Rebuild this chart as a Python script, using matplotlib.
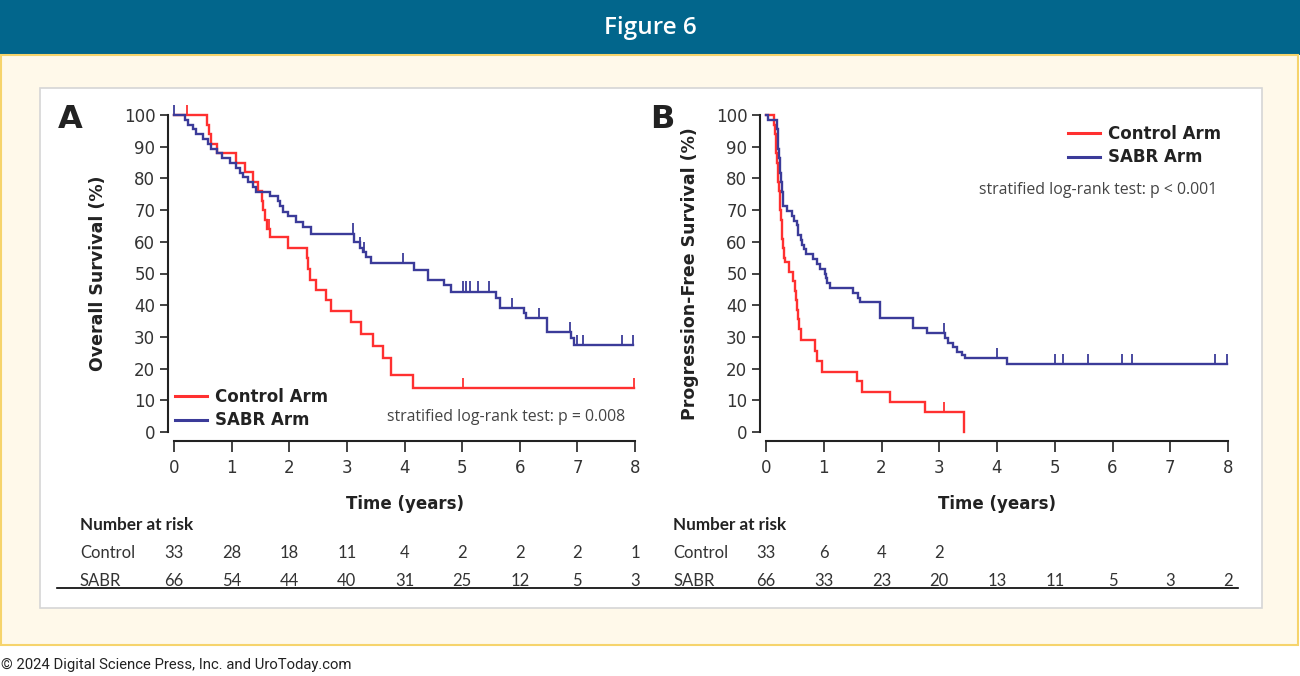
import numpy as np
import matplotlib
matplotlib.use("Agg")
import matplotlib.pyplot as plt
from matplotlib import transforms
from matplotlib.patches import Rectangle
from matplotlib.lines import Line2D

W, H = 1300, 676

# ---- data ----
years = [0, 1, 2, 3, 4, 5, 6, 7, 8]
pct_ticks = [0, 10, 20, 30, 40, 50, 60, 70, 80, 90, 100]

# panel A: overall survival, control arm
os_ctrl_t = [0, 0.57, 0.60, 0.65, 0.74, 1.08, 1.23, 1.37, 1.46, 1.52, 1.55, 1.58, 1.62,
             1.66, 1.98, 2.30, 2.33, 2.36, 2.47, 2.64, 2.73, 3.08, 3.25, 3.45, 3.63,
             3.77, 4.14, 7.98]
os_ctrl_s = [100, 97, 94, 91, 88, 85, 82, 79, 76, 73, 70, 67, 64,
             61.5, 58.2, 55, 51.5, 48, 44.8, 41.5, 38.2, 34.6, 31, 27, 23.2,
             18, 13.8, 13.8]
os_ctrl_cens = [0.22, 1.64, 3.08, 5.01, 7.98]

# panel A: overall survival, SABR arm
os_sabr_t = [0, 0.19, 0.25, 0.33, 0.39, 0.51, 0.59, 0.65, 0.74, 0.83, 0.97, 1.08, 1.14,
             1.20, 1.29, 1.37, 1.43, 1.66, 1.81, 1.84, 1.89, 1.98, 2.12, 2.24, 2.38,
             3.13, 3.22, 3.28, 3.34, 3.42, 4.17, 4.40, 4.69, 4.81, 5.59, 5.65, 6.08,
             6.11, 6.48, 6.89, 6.94, 7.96]
os_sabr_s = [100, 98.5, 97, 95.5, 94, 92.4, 90.9, 89.4, 87.9, 86.4, 84.8, 83.3, 81.8,
             80.3, 78.8, 77.3, 75.8, 74.5, 72.8, 71.2, 69.5, 68, 66.4, 64.8, 62.6,
             60, 58.2, 56.8, 55.2, 53.2, 51.2, 47.8, 46.3, 44.3, 42.2, 39.2, 37.5,
             35.9, 31.6, 29.5, 27.4, 27.4]
os_sabr_cens = [0.0, 3.10, 3.23, 3.30, 3.98, 5.01, 5.07, 5.13, 5.27, 5.47, 5.86, 6.33,
                6.87, 6.99, 7.10, 7.77, 7.96]

# panel B: progression-free survival, control arm
pfs_ctrl_t = [0, 0.13, 0.15, 0.165, 0.18, 0.195, 0.205, 0.215, 0.225, 0.235, 0.245,
              0.26, 0.27, 0.28, 0.295, 0.31, 0.33, 0.39, 0.46, 0.50, 0.52, 0.535,
              0.55, 0.57, 0.60, 0.85, 0.88, 0.97, 1.57, 1.66, 2.15, 2.75, 3.42]
pfs_ctrl_s = [100, 97, 94, 91, 88, 85, 82, 79, 76, 73, 70,
              67, 64, 61, 58, 55, 53.5, 50.5, 47.5, 44.5, 41.5, 38.5,
              35.5, 32.5, 29, 25.6, 22.5, 19, 16, 12.7, 9.4, 6.2, 0]
pfs_ctrl_cens = [3.08]

# panel B: progression-free survival, SABR arm
pfs_sabr_t = [0, 0.04, 0.185, 0.19, 0.20, 0.205, 0.21, 0.215, 0.22, 0.23, 0.235, 0.24,
              0.25, 0.255, 0.26, 0.27, 0.28, 0.29, 0.30, 0.36, 0.445, 0.485, 0.53,
              0.56, 0.60, 0.62, 0.65, 0.69, 0.82, 0.88, 0.935, 1.02, 1.035, 1.05,
              1.11, 1.51, 1.60, 1.63, 1.97, 2.55, 2.78, 3.10, 3.16, 3.24, 3.30, 3.39,
              3.45, 4.17, 7.99]
pfs_sabr_s = [100, 98.5, 97, 95.5, 94, 92.4, 90.9, 89.4, 87.9, 86.4, 84.8, 83.3,
              81.8, 80.3, 78.8, 77.3, 75.8, 74.2, 71.2, 69.7, 68.2, 66.7, 65.2,
              62.1, 60.6, 59.1, 57.6, 56.1, 54.5, 53, 51.5, 50, 48.5, 47,
              45.5, 43.9, 42.4, 40.9, 35.9, 32.7, 31.1, 29.5, 28.2, 26.8, 25.3, 24.3,
              23.2, 21.4, 21.4]
pfs_sabr_cens = [3.08, 4.00, 5.00, 5.14, 5.58, 6.16, 6.33, 7.77, 7.99]

# number at risk
risk_os_ctrl = [33, 28, 18, 11, 4, 2, 2, 2, 1]
risk_os_sabr = [66, 54, 44, 40, 31, 25, 12, 5, 3]
risk_pfs_ctrl = [33, 6, 4, 2]
risk_pfs_sabr = [66, 33, 23, 20, 13, 11, 5, 3, 2]

RED = "#FF3030"
BLUE = "#3B3B99"
INK = "#222222"


def box(x0, y0, x1, y1):
    # pixel box (top-left origin) -> figure fraction rect
    return [x0 / W, 1 - y1 / H, (x1 - x0) / W, (y1 - y0) / H]


fig = plt.figure(figsize=(W / 100, H / 100), dpi=100)

# background canvas in pixel coordinates
bg = fig.add_axes([0, 0, 1, 1])
bg.set_xlim(0, W)
bg.set_ylim(H, 0)
bg.axis("off")
bg.add_patch(Rectangle((0, 0), W, 55, color="#02668C", lw=0))
bg.add_patch(Rectangle((1, 55), W - 3, 590, facecolor="#FFF9EA", edgecolor="#F6D46C", lw=1.5))
bg.add_patch(Rectangle((40, 88), 1222, 520, facecolor="white", edgecolor="#D6D6D6", lw=1.2))
bg.text(650, 28, "Figure 6", color="white", fontsize=17.5, fontweight="semibold",
        family="Open Sans", ha="center", va="center")
bg.text(1, 665, "\u00a9 2024 Digital Science Press, Inc. and UroToday.com", color=INK,
        fontsize=10.7, family="Roboto", ha="left", va="center")


def km_panel(rect, curves, ylabel, letter, letter_xy):
    ax = fig.add_axes(rect)
    for t, s, cens, col in curves:
        ax.step(t, s, where="post", color=col, lw=1.7, clip_on=False, solid_joinstyle="miter")
        idx = np.searchsorted(t, cens, side="right") - 1
        ys = np.asarray(s)[idx]
        ax.vlines(cens, ys, ys + 3.2, color=col, lw=1.3, clip_on=False)
    ax.set_xlim(0, 8)
    ax.set_ylim(0, 100)
    ax.set_xticks(years)
    ax.set_yticks(pct_ticks)
    for side in ("top", "right"):
        ax.spines[side].set_visible(False)
    ax.spines["left"].set_position(("outward", 4.5))
    ax.spines["bottom"].set_position(("outward", 6.5))
    for side in ("left", "bottom"):
        ax.spines[side].set_linewidth(1.5)
        ax.spines[side].set_color(INK)
    ax.tick_params(axis="y", length=6, width=1.2, pad=3, labelsize=12, colors=INK, labelcolor="#333333")
    ax.tick_params(axis="x", length=8, width=1.2, pad=5, labelsize=12, colors=INK, labelcolor="#333333")
    ax.set_ylabel(ylabel, fontsize=12.5, fontweight="bold", color=INK, labelpad=12)
    ax.set_xlabel("Time (years)", fontsize=12, fontweight="bold", color=INK, labelpad=13)
    ax.patch.set_alpha(0)
    bg.text(letter_xy[0], letter_xy[1], letter, fontsize=23, fontweight="bold", color=INK,
            ha="center", va="center")
    return ax


axA = km_panel(box(174, 115, 635, 432),
               [(os_ctrl_t, os_ctrl_s, os_ctrl_cens, RED),
                (os_sabr_t, os_sabr_s, os_sabr_cens, BLUE)],
               "Overall Survival (%)", "A", (70, 119))
axB = km_panel(box(766, 115, 1228, 432),
               [(pfs_ctrl_t, pfs_ctrl_s, pfs_ctrl_cens, RED),
                (pfs_sabr_t, pfs_sabr_s, pfs_sabr_cens, BLUE)],
               "Progression-Free Survival (%)", "B", (662, 119))

handles = [Line2D([], [], color=RED, lw=2.2), Line2D([], [], color=BLUE, lw=2.2)]
labels = ["Control Arm", "SABR Arm"]
legend_kw = dict(frameon=False, handlelength=1.9, handletextpad=0.5, labelspacing=0.32,
                 borderpad=0, borderaxespad=0, loc="upper left",
                 bbox_transform=fig.transFigure,
                 prop={"size": 12, "weight": "bold"})
legA = axA.legend(handles, labels, bbox_to_anchor=(175 / W, 1 - 388 / H), **legend_kw)
legB = axB.legend(handles, labels, bbox_to_anchor=(1068 / W, 1 - 125 / H), **legend_kw)
for leg in (legA, legB):
    for txt in leg.get_texts():
        txt.set_color(INK)

bg.text(625, 417, "stratified log-rank test: p = 0.008", fontsize=11.4, family="Open Sans",
        color="#444444", ha="right", va="center")
bg.text(1217, 190, "stratified log-rank test: p < 0.001", fontsize=11.4, family="Open Sans",
        color="#444444", ha="right", va="center")

# number at risk tables
def risk_table(ax, x_lab, ctrl, sabr):
    tr = transforms.blended_transform_factory(ax.transData, bg.transData)
    bg.text(x_lab, 525, "Number at risk", fontsize=12.3, fontweight="bold", family="Lato",
            color=INK, ha="left", va="center")
    bg.text(x_lab, 553, "Control", fontsize=12, family="Lato", color="#333333", ha="left", va="center")
    bg.text(x_lab, 581, "SABR", fontsize=12, family="Lato", color="#333333", ha="left", va="center")
    for yr, n in zip(years, ctrl):
        ax.text(yr, 553, str(n), transform=tr, fontsize=12, family="Lato", color="#333333",
                ha="center", va="center", clip_on=False)
    for yr, n in zip(years, sabr):
        ax.text(yr, 581, str(n), transform=tr, fontsize=12, family="Lato", color="#333333",
                ha="center", va="center", clip_on=False)


risk_table(axA, 80, risk_os_ctrl, risk_os_sabr)
risk_table(axB, 673, risk_pfs_ctrl, risk_pfs_sabr)
bg.plot([57, 1238], [588, 588], color="black", lw=1.2)

fig.savefig("out.png", dpi=100)
